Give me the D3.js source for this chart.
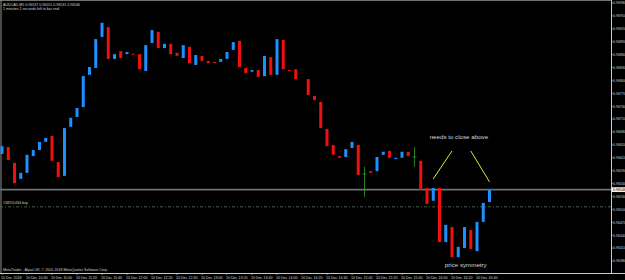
<!DOCTYPE html>
<html>
<head>
<meta charset="utf-8">
<script src="https://cdn.jsdelivr.net/npm/d3@7"></script>
<style>
  html, body { margin: 0; padding: 0; background: #000; }
  svg { display: block; }
  text { font-family: "Liberation Sans", Arial, sans-serif; }
</style>
</head>
<body>
<svg id="chart"></svg>
<script>
// AUDCAD M5 candles, 10 Dec 2018 10:20 -> 16:50 (bar index 0..78)

const width = 625;
const height = 280;

// open / close per bar, null where no body is visible
const opens = [
  0.96629, 0.96645, 0.96608, 0.96571, 0.96585, 0.96624, 0.96638, 0.96657, 0.96671, 0.96610,
  0.96578, 0.96692, 0.96715, 0.96738, 0.96813, 0.96829, 0.96901, 0.96924, 0.96850, 0.96868,
  0.96861, 0.96862, 0.96861, 0.96822, 0.96887, 0.96913, 0.96875, 0.96885, 0.96864, 0.96852,
  0.96878, 0.96836, 0.96857, 0.96845, 0.96843, 0.96843, 0.96850, 0.96871, 0.96892, 0.96829,
  0.96820, 0.96824, 0.96810, 0.96854, 0.96813, 0.96894, 0.96824, 0.96826, null,    0.96803,
  0.96764, 0.96750, 0.96687, 0.96650, 0.96624, 0.96622, 0.96643, 0.96650, 0.96582, 0.96589,
  0.96589, 0.96627, 0.96636, 0.96617, 0.96620, 0.96634, 0.96622, 0.96613, 0.96550, 0.96520,
  0.96550, 0.96424, 0.96459, 0.96389, 0.96410, 0.96452, 0.96403, 0.96471, 0.96517
];
const closes = [
  0.96647, 0.96615, 0.96561, 0.96585, 0.96627, 0.96638, 0.96657, 0.96666, 0.96613, 0.96575,
  0.96689, 0.96713, 0.96736, 0.96810, 0.96831, 0.96896, 0.96934, 0.96850, 0.96861, 0.96852,
  0.96866, 0.96860, 0.96826, 0.96882, 0.96917, 0.96875, 0.96885, 0.96861, 0.96857, 0.96882,
  0.96840, 0.96859, 0.96845, 0.96840, 0.96840, 0.96850, 0.96866, 0.96889, 0.96831, 0.96817,
  0.96824, 0.96808, 0.96857, 0.96813, 0.96896, 0.96826, 0.96822, 0.96803, null,    0.96766,
  0.96754, 0.96689, 0.96647, 0.96627, 0.96620, 0.96640, 0.96657, 0.96580, 0.96582, 0.96585,
  0.96622, 0.96634, 0.96620, 0.96620, 0.96634, 0.96624, 0.96622, 0.96545, 0.96513, 0.96550,
  0.96424, 0.96464, 0.96389, 0.96413, 0.96459, 0.96408, 0.96471, 0.96515, 0.96545
];

// doji bars are drawn with wicks (line colour)
const dojiBars = [58, 66];
const dojiHigh = [0.96599, 0.96645];
const dojiLow = [0.96529, 0.96599];

const priceTicks = [
  0.96980, 0.96950, 0.96920, 0.96890, 0.96860, 0.96830, 0.96800, 0.96770, 0.96740, 0.96710, 0.96680,
  0.96650, 0.96620, 0.96590, 0.96560, 0.96530, 0.96500, 0.96470, 0.96440, 0.96410, 0.96380
];

const timeLabels = [
  '10 Dec 2018', '10 Dec 10:40', '10 Dec 11:00', '10 Dec 11:20', '10 Dec 11:40', '10 Dec 12:00',
  '10 Dec 12:20', '10 Dec 12:40', '10 Dec 13:00', '10 Dec 13:20', '10 Dec 13:40', '10 Dec 14:00',
  '10 Dec 14:20', '10 Dec 14:40', '10 Dec 15:00', '10 Dec 15:20', '10 Dec 15:40', '10 Dec 16:00',
  '10 Dec 16:20', '10 Dec 16:40'
];
const timeLabelBars = [0, 4, 8, 12, 16, 20, 24, 28, 32, 36, 40, 44, 48, 52, 56, 60, 64, 68, 72, 76];

const bidPrice = 0.96546;
const orderPrice = 0.96506;
const orderLabel = '#58151434 buy';
const titleLine1 = 'AUDCAD,M5  0.96537 0.96551 0.96531 0.96546';
const titleLine2 = '1 minutes 1 seconds left to bar end';
const footer = 'MetaTrader - Alpari UK, \u00a9 2001-2018 MetaQuotes Software Corp.';

// annotation anchors [bar, price]
const leftArrow = [[69, 0.96571], [72, 0.96636]];
const rightArrow = [[75, 0.96636], [78, 0.96564]];
const noteTop = { text: 'needs to close above', bar: 73.1, price: 0.96664 };
const noteBottom = { text: 'price symmetry', bar: 74.2, price: 0.96366 };

const bullColor = '#1e90ff';
const bearColor = '#f01010';

const plotRight = 611;
const plotBottom = 273;

const svg = d3.select('#chart')
  .attr('width', width)
  .attr('height', height);

svg.append('rect').attr('width', width).attr('height', height).attr('fill', '#000');

const x = d3.scaleLinear().domain([0, 78]).range([2, 489.5]);
const y = d3.scaleLinear().domain([0.96980, 0.96380]).range([3, 261]);

// frame
svg.append('line').attr('x1', 0).attr('x2', plotRight).attr('y1', 0.5).attr('y2', 0.5)
  .attr('stroke', '#707070');
svg.append('line').attr('x1', 1).attr('x2', 1).attr('y1', 0).attr('y2', plotBottom)
  .attr('stroke', '#909090');
svg.append('line').attr('x1', plotRight + 0.5).attr('x2', plotRight + 0.5).attr('y1', 0).attr('y2', plotBottom)
  .attr('stroke', '#c8c8c8');
svg.append('line').attr('x1', 0).attr('x2', width).attr('y1', plotBottom + 0.5).attr('y2', plotBottom + 0.5)
  .attr('stroke', '#c8c8c8');

// bid line and order line
svg.append('line')
  .attr('x1', 0).attr('x2', plotRight)
  .attr('y1', y(bidPrice)).attr('y2', y(bidPrice))
  .attr('stroke', '#707070').attr('stroke-width', 1.6);

svg.append('line')
  .attr('x1', 0).attr('x2', plotRight)
  .attr('y1', y(orderPrice)).attr('y2', y(orderPrice))
  .attr('stroke', '#4d7a55').attr('stroke-width', 0.8)
  .attr('stroke-dasharray', '3,2,1,2');

svg.append('text')
  .attr('x', 3).attr('y', y(orderPrice) - 2.5)
  .attr('fill', '#d0d0d0').attr('font-size', 3.6)
  .text(orderLabel);

// candles
const bars = d3.range(opens.length)
  .filter(i => opens[i] != null && !dojiBars.includes(i))
  .map(i => ({ i, o: opens[i], c: closes[i] }));

svg.append('g').selectAll('rect')
  .data(bars)
  .join('rect')
    .attr('x', d => x(d.i) - 1.5)
    .attr('width', 3)
    .attr('y', d => y(Math.max(d.o, d.c)))
    .attr('height', d => Math.max(1, Math.abs(y(d.o) - y(d.c))))
    .attr('fill', d => d.c >= d.o ? bullColor : bearColor);

// dojis
const dojis = svg.append('g').attr('stroke', '#2fa02f').attr('stroke-width', 0.8);
dojiBars.forEach((b, k) => {
  dojis.append('line')
    .attr('x1', x(b)).attr('x2', x(b))
    .attr('y1', y(dojiHigh[k])).attr('y2', y(dojiLow[k]));
  dojis.append('line')
    .attr('x1', x(b) - 2).attr('x2', x(b) + 2)
    .attr('y1', y(opens[b])).attr('y2', y(opens[b]));
});

// price axis
const pAxis = svg.append('g').attr('font-size', 3.6).attr('fill', '#d0d0d0');
priceTicks.forEach(p => {
  pAxis.append('line')
    .attr('x1', plotRight).attr('x2', plotRight + 2)
    .attr('y1', y(p)).attr('y2', y(p))
    .attr('stroke', '#c8c8c8').attr('stroke-width', 0.6);
  pAxis.append('text')
    .attr('x', plotRight + 2).attr('y', y(p) + 1.3)
    .text(d3.format('.5f')(p));
});

// current price marker
svg.append('rect')
  .attr('x', plotRight + 0.5).attr('y', y(bidPrice) - 2.4)
  .attr('width', width - plotRight).attr('height', 4.8)
  .attr('fill', '#f0f0f0');
svg.append('text')
  .attr('x', plotRight + 2).attr('y', y(bidPrice) + 1.3)
  .attr('font-size', 3.6).attr('fill', '#000')
  .text(d3.format('.5f')(bidPrice));

// time axis
const tAxis = svg.append('g').attr('font-size', 3.6).attr('fill', '#d0d0d0');
timeLabelBars.forEach((b, k) => {
  tAxis.append('line')
    .attr('x1', x(b)).attr('x2', x(b))
    .attr('y1', plotBottom).attr('y2', plotBottom + 2)
    .attr('stroke', '#c8c8c8').attr('stroke-width', 0.6);
  tAxis.append('text')
    .attr('x', x(b) - 1).attr('y', plotBottom + 5.5)
    .text(timeLabels[k]);
});

// header / footer
svg.append('text').attr('x', 3).attr('y', 5.5)
  .attr('font-size', 3.6).attr('fill', '#d0d0d0').text(titleLine1);
svg.append('text').attr('x', 3).attr('y', 9.5)
  .attr('font-size', 3.6).attr('fill', '#d0d0d0').text(titleLine2);
svg.append('text').attr('x', 3).attr('y', 271)
  .attr('font-size', 3.6).attr('fill', '#d0d0d0').text(footer);

// annotations
[leftArrow, rightArrow].forEach(seg => {
  svg.append('line')
    .attr('x1', x(seg[0][0])).attr('y1', y(seg[0][1]))
    .attr('x2', x(seg[1][0])).attr('y2', y(seg[1][1]))
    .attr('stroke', '#e6e632').attr('stroke-width', 1);
});

[noteTop, noteBottom].forEach(n => {
  svg.append('text')
    .attr('x', x(n.bar)).attr('y', y(n.price))
    .attr('text-anchor', 'middle')
    .attr('font-size', 6.2).attr('fill', '#d8d8d8')
    .text(n.text);
});
</script>
</body>
</html>
